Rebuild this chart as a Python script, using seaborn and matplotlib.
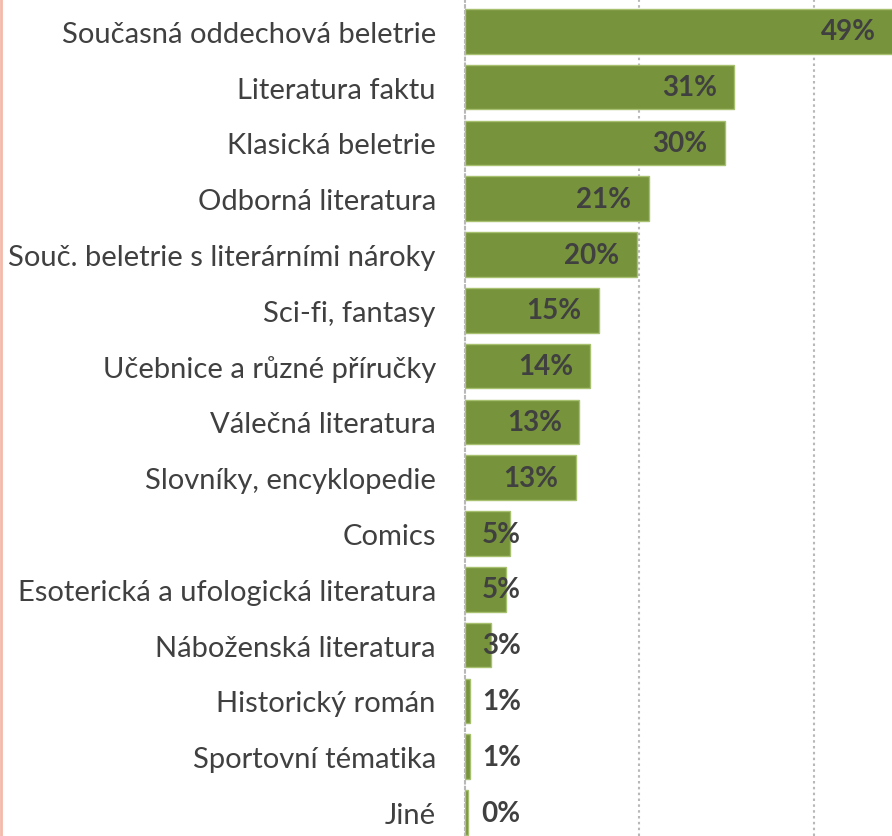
import numpy as np
import pandas as pd
import matplotlib.pyplot as plt
import seaborn as sns

kategorie=[
    "Současná oddechová beletrie",
    "Literatura faktu",
    "Klasická beletrie",
    "Odborná literatura",
    "Souč. beletrie s literárními nároky",
    "Sci-fi, fantasy",
    "Učebnice a různé příručky",
    "Válečná literatura",
    "Slovníky, encyklopedie",
    "Comics",
    "Esoterická a ufologická literatura",
    "Náboženská literatura",
    "Historický román",
    "Sportovní tématika",
    "Jiné",
]
hodnoty=[49.2, 30.9, 29.8, 21.1, 19.7, 15.4, 14.4, 13.1, 12.7, 5.2, 4.7, 3.0, 0.6, 0.6, 0.3]
popisky=["49%", "31%", "30%", "21%", "20%", "15%", "14%", "13%", "13%", "5%", "5%", "3%", "1%", "1%", "0%"]

df=pd.DataFrame({'Kategorie':kategorie,'Podil':hodnoty})

sns.set_theme(style="white")
plt.rcParams['font.family']=['Lato','DejaVu Sans']

fig=plt.figure(figsize=(8.92,8.37),dpi=100)
ax=fig.add_axes([465/892,0,1-465/892,1])

sns.barplot(
    data=df,
    x='Podil',
    y='Kategorie',
    orient='h',
    color='#77933C',
    saturation=1,
    width=0.8,
    edgecolor='#a6c070',
    linewidth=1,
    ax=ax
)

ax.set_xlim(0,49.0)
ax.set_ylim(14.42,-0.58)
ax.set_xlabel("")
ax.set_ylabel("")
ax.set_xticks([20,40])
ax.set_xticklabels([])
ax.tick_params(axis='x',length=0)
ax.tick_params(axis='y',length=0,pad=21)
ax.xaxis.grid(True,linestyle=(0,(1.2,1.6)),color='#b8b8b8',linewidth=1.5)
ax.set_axisbelow(True)
for lab in ax.get_yticklabels():
    lab.set_fontsize(21)
    lab.set_color('#404040')

for s in ['top','right','bottom']:
    ax.spines[s].set_visible(False)
ax.spines['left'].set_linestyle((0,(1.2,1.6)))
ax.spines['left'].set_color('#b8b8b8')
ax.spines['left'].set_linewidth(1.5)

for i,(v,t) in enumerate(zip(hodnoty,popisky)):
    ax.text(max(v-2.0,6.4),i,t,ha='right',va='center',
            fontsize=20,fontweight='bold',color='#404040')

# tenka cervena linka na levem okraji
fig.add_artist(plt.Line2D([0.001,0.001],[0,1],color='#F4B9A8',linewidth=2,transform=fig.transFigure))

plt.savefig("out.png",dpi=100)
